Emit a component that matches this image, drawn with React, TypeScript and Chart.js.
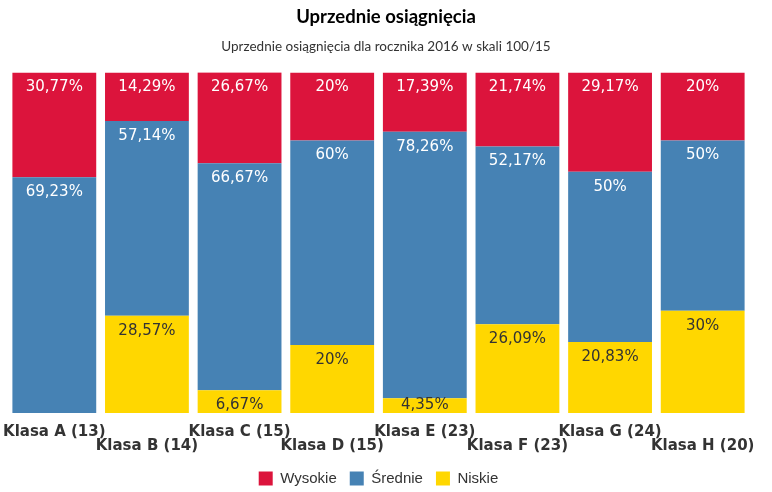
import { useEffect, useRef } from 'react';
import { Chart, registerables } from 'chart.js';

Chart.register(...registerables);

const categories = [
  'Klasa A (13)',
  'Klasa B (14)',
  'Klasa C (15)',
  'Klasa D (15)',
  'Klasa E (23)',
  'Klasa F (23)',
  'Klasa G (24)',
  'Klasa H (20)',
];
const wysokie = [30.77, 14.29, 26.67, 20, 17.39, 21.74, 29.17, 20];
const srednie = [69.23, 57.14, 66.67, 60, 78.26, 52.17, 50, 50];
const niskie = [0, 28.57, 6.67, 20, 4.35, 26.09, 20.83, 30];

const fmt = (v: number) =>
  (Number.isInteger(v) ? String(v) : v.toFixed(2).replace('.', ',')) + '%';

const segLabels = {
  id: 'segLabels',
  afterDatasetsDraw(chart: any) {
    const ctx = chart.ctx;
    ctx.save();
    ctx.font = '15px "DejaVu Sans"';
    ctx.textAlign = 'center';
    ctx.textBaseline = 'middle';
    chart.data.datasets.forEach((ds: any, di: number) => {
      const meta = chart.getDatasetMeta(di);
      if (meta.hidden) return;
      ctx.fillStyle = ds.labelColor;
      meta.data.forEach((bar: any, i: number) => {
        const v = ds.data[i];
        if (!v) return;
        const { x, y, base } = bar.getProps(['x', 'y', 'base'], true);
        const top = Math.min(y, base);
        const bottom = Math.max(y, base);
        const cy = Math.min(top + 15, bottom - 8);
        ctx.fillText(fmt(v), x, cy);
      });
    });
    ctx.restore();
  },
};

export default function App() {
  const ref = useRef<HTMLCanvasElement | null>(null);
  useEffect(() => {
    if (!ref.current) return;
    const chart = new Chart(ref.current, {
      type: 'bar',
      data: {
        labels: categories,
        datasets: [
          {
            label: 'Niskie',
            data: niskie,
            backgroundColor: '#FFD700',
            borderWidth: 0,
            labelColor: '#333333',
          } as any,
          {
            label: 'Średnie',
            data: srednie,
            backgroundColor: '#4682B4',
            borderWidth: 0,
            labelColor: '#ffffff',
          } as any,
          {
            label: 'Wysokie',
            data: wysokie,
            backgroundColor: '#DC143C',
            borderWidth: 0,
            labelColor: '#ffffff',
          } as any,
        ],
      },
      options: {
        animation: false,
        responsive: true,
        maintainAspectRatio: false,
        datasets: { bar: { barPercentage: 0.905, categoryPercentage: 1 } },
        layout: { padding: { left: 0, right: 0, top: 0, bottom: -4 } },
        scales: {
          x: {
            stacked: true,
            grid: { display: false, drawTicks: false },
            border: { display: false },
            ticks: {
              autoSkip: false,
              maxRotation: 0,
              minRotation: 0,
              padding: 12,
              color: '#333333',
              font: { family: 'DejaVu Sans', size: 15, weight: 'bold', lineHeight: '14px' },
              callback: (_v: any, i: number) =>
                i % 2 === 0 ? [categories[i], ''] : ['', categories[i]],
            },
            afterFit: (s: any) => {
              s.height = 45;
              s.paddingLeft = 0;
              s.paddingRight = 0;
            },
          },
          y: {
            stacked: true,
            min: 0,
            max: 100,
            display: true,
            grid: { display: false },
            border: { display: false },
            ticks: { display: false },
            afterFit: (s: any) => {
              s.width = 8;
              s.paddingTop = 0;
              s.paddingBottom = 0;
            },
          },
          y2: {
            position: 'right',
            display: true,
            grid: { display: false },
            border: { display: false },
            ticks: { display: false },
            afterFit: (s: any) => {
              s.width = 23;
              s.paddingTop = 0;
              s.paddingBottom = 0;
            },
          },
        },
        plugins: {
          title: {
            display: true,
            text: 'Uprzednie osiągnięcia',
            color: '#000000',
            font: { family: 'Lato', size: 18.5, weight: 'bold' },
            padding: { top: 6, bottom: 0 },
          },
          subtitle: {
            display: true,
            text: 'Uprzednie osiągnięcia dla rocznika 2016 w skali 100/15',
            color: '#333333',
            font: { family: 'Lato', size: 13.5 },
            padding: { top: 10, bottom: 18 },
          },
          legend: {
            position: 'bottom',
            fullSize: false,
            reverse: true,
            labels: {
              boxWidth: 14,
              boxHeight: 14,
              padding: 13,
              color: '#333333',
              font: { family: 'Liberation Sans', size: 15 },
            },
          },
          tooltip: { enabled: false },
        },
      } as any,
      plugins: [segLabels],
    });
    return () => chart.destroy();
  }, []);
  return (
    <div style={{ position: 'absolute', left: 0, top: 0, width: 772, height: 492 }}>
      <canvas ref={ref} />
    </div>
  );
}
